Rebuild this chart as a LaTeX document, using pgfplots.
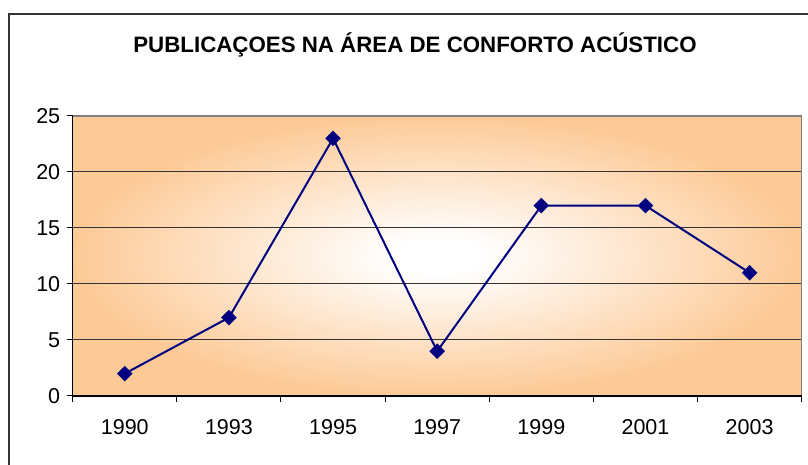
\documentclass[border=0pt]{standalone}
\usepackage{fontspec}
\setmainfont{Liberation Sans}
\usepackage{pgfplots}
\pgfplotsset{compat=1.18}
\definecolor{edgeorange}{RGB}{253,202,151}
\definecolor{navyline}{RGB}{0,0,128}
\pgfdeclareradialshading{glow}{\pgfpoint{0bp}{0bp}}{color(0bp)=(white); color(3bp)=(white); color(25bp)=(edgeorange); color(50bp)=(edgeorange)}
\begin{document}
\begin{tikzpicture}
\path[use as bounding box] (0,0) rectangle (808bp,465bp);
\draw[line width=1.3bp, black!80] (9bp,-2bp) -- (9bp,451bp) -- (810bp,451bp);
\node[font=\fontsize{22.3bp}{26bp}\selectfont\bfseries] at (415bp,420bp) {PUBLICAÇOES NA ÁREA DE CONFORTO ACÚSTICO};
\begin{axis}[
  at={(72.7bp,69bp)}, anchor=south west,
  width=729bp, height=280bp, scale only axis,
  xmin=-0.5, xmax=6.5, ymin=0, ymax=25,
  axis background/.style={shade, shading=glow},
  axis line style={draw=none},
  tick pos=left, tick align=outside,
  xtick={-0.5,0.5,...,6.5}, xticklabels={},
  extra x ticks={0,1,2,3,4,5,6},
  extra x tick labels={1990,1993,1995,1997,1999,2001,2003},
  extra x tick style={major tick length=0pt, xticklabel style={yshift=-20bp}},
  ytick={0,5,...,25},
  major tick length=6bp,
  tick style={black, line width=1bp},
  yticklabel style={xshift=-3bp},
  ymajorgrids, grid style={black!80, line width=1bp},
  /pgf/number format/assume math mode=true,
  tick label style={font=\fontsize{21.5bp}{25bp}\selectfont},
  clip=false,
]
\addplot[navyline, line width=2bp, mark=square*, mark size=5bp, mark options={rotate=45, fill=navyline, line width=1bp}]
  coordinates {(0,2) (1,7) (2,23) (3,4) (4,17) (5,17) (6,11)};
\draw[gray, line width=1.3bp] (rel axis cs:0,1) -- (rel axis cs:1,1) -- (rel axis cs:1,0);
\draw[black, line width=1.1bp] (rel axis cs:0,1) -- (rel axis cs:0,0) -- (rel axis cs:1,0);
\end{axis}
\end{tikzpicture}
\end{document}
